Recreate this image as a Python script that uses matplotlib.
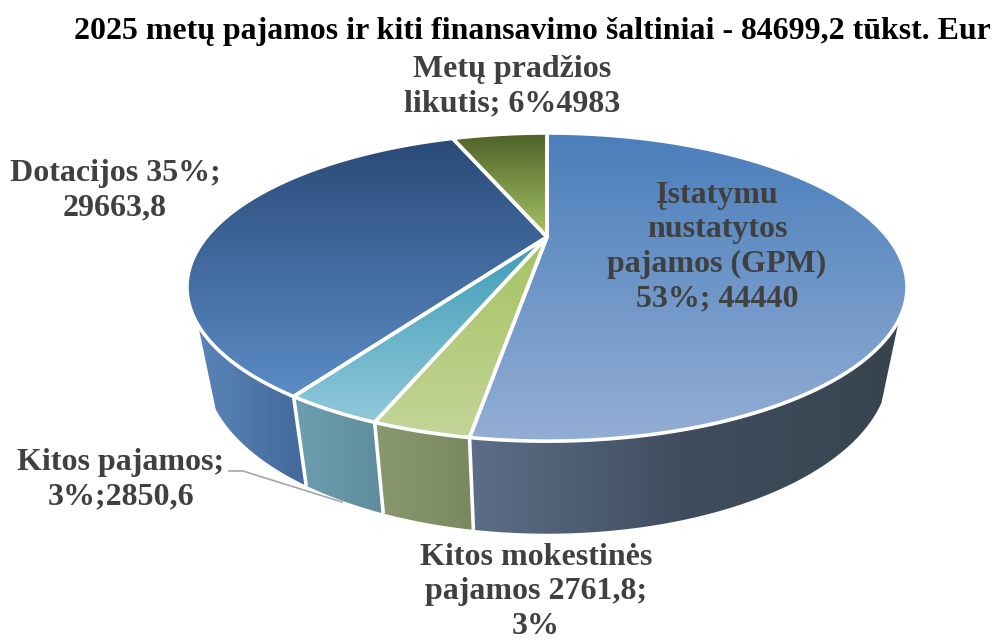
import numpy as np
import matplotlib
matplotlib.use("Agg")
import matplotlib.pyplot as plt
from matplotlib.colors import LinearSegmentedColormap
from matplotlib.patches import Polygon

plt.rcParams['font.family'] = ['Liberation Serif', 'DejaVu Serif']

# duomenys
kategorijos = ["Įstatymu nustatytos pajamos (GPM)", "Kitos mokestinės pajamos",
               "Kitos pajamos", "Dotacijos", "Metų pradžios likutis"]
reiksmes = [44440, 2761.8, 2850.6, 29663.8, 4983]
pavadinimas = "2025 metų pajamos ir kiti finansavimo šaltiniai - 84699,2 tūkst. Eur"
etiketes = ["Įstatymu\nnustatytos\npajamos (GPM)\n53%; 44440",
            "Kitos mokestinės\npajamos 2761,8;\n3%",
            "Kitos pajamos;\n3%;2850,6",
            "Dotacijos 35%;\n29663,8",
            "Metų pradžios\nlikutis; 6%4983"]

# spalvos: virsus (tolimas, artimas), sonas (kaire, desine)
virsus = [("#4a7ebb", "#93aed4"), ("#a5c261", "#c3d598"), ("#3f9bb5", "#8fc8da"),
          ("#2a4a78", "#5c8cc6"), ("#4f6228", "#a6c467")]
sonas = [("#5c6e88", "#3f4d5e", "#37444f"), ("#8a9870", "#7a8860"), ("#6d9fb0", "#5f8c9c"),
         ("#5a85b8", "#44689a"), ("#4f6228", "#4f6228")]
etik_xy = [(717, 247), (536, 592), (121, 480), (115, 191), (512, 87)]

# perspektyva
CX, AY = 547, 237
A, B, K = 340.5, 137.8, 0.325
SX, SY = 0.95, 1.075
Y_VIRS, Y_APAC = 287, 368


def virsaus_taskas(kampas):
    u, v = np.sin(kampas), -np.cos(kampas)
    w = 1 - K * v
    return CX + A * u / w, AY + B * v / w


def apacios_taskas(kampas):
    x, y = virsaus_taskas(kampas)
    return CX + SX * (x - CX), Y_APAC + SY * (y - Y_VIRS)


def gradientas(ax, poli, spalvos, kryptis):
    cmap = LinearSegmentedColormap.from_list("g", spalvos)
    g = np.linspace(0, 1, 256)
    img = g[:, None] if kryptis == "y" else g[None, :]
    x0, x1 = poli[:, 0].min(), poli[:, 0].max()
    y0, y1 = poli[:, 1].min(), poli[:, 1].max()
    im = ax.imshow(img, cmap=cmap, extent=(x0, x1, y1, y0), aspect="auto", zorder=2)
    p = Polygon(poli, closed=True, transform=ax.transData, fc="none", ec="none")
    ax.add_patch(p)
    im.set_clip_path(p)


fig = plt.figure(figsize=(9.96, 6.4), dpi=100)
ax = fig.add_axes([0, 0, 1, 1])
ax.set_xlim(0, 996)
ax.set_ylim(640, 0)
ax.axis("off")

ribos_kampai = np.radians(np.cumsum([0] + reiksmes) / sum(reiksmes) * 360)
sonas_nuo, sonas_iki = np.radians(120), np.radians(238)

# sonai (matoma priekine dalis)
for i in range(5):
    a0, a1 = ribos_kampai[i], ribos_kampai[i + 1]
    lo, hi = max(a0, sonas_nuo), min(a1, sonas_iki)
    if hi <= lo:
        continue
    kam = np.linspace(lo, hi, 120)
    tx, ty = virsaus_taskas(kam)
    bx, by = apacios_taskas(kam)
    poli = np.column_stack([np.r_[tx, bx[::-1]], np.r_[ty, by[::-1]]])
    gradientas(ax, poli, sonas[i], "x")
    # balti kastai tarp sonu
    if sonas_nuo < a1 < sonas_iki:
        ax.plot([virsaus_taskas(a1)[0], apacios_taskas(a1)[0]],
                [virsaus_taskas(a1)[1], apacios_taskas(a1)[1]],
                color="white", lw=2.6, zorder=3, solid_capstyle="butt")

# virsus
for i in range(5):
    kam = np.linspace(ribos_kampai[i], ribos_kampai[i + 1], 240)
    x, y = virsaus_taskas(kam)
    poli = np.column_stack([np.r_[CX, x], np.r_[AY, y]])
    gradientas(ax, poli, virsus[i], "y")
    ax.add_patch(Polygon(poli, closed=True, fc="none", ec="white", lw=2.6, zorder=4,
                         joinstyle="round"))

# etiketes
for txt, (x, y) in zip(etiketes, etik_xy):
    ax.text(x, y, txt, ha="center", va="center", fontsize=23, fontweight="bold",
            color="#404040", linespacing=1.24, zorder=6)
ax.plot([229, 243, 342], [471, 471, 502], color="#a6a6a6", lw=1.2, zorder=5)

ax.text(532, 31, pavadinimas, ha="center", va="center", fontsize=22.95,
        fontweight="bold", color="black", zorder=6)

fig.savefig("out.png", dpi=100)
